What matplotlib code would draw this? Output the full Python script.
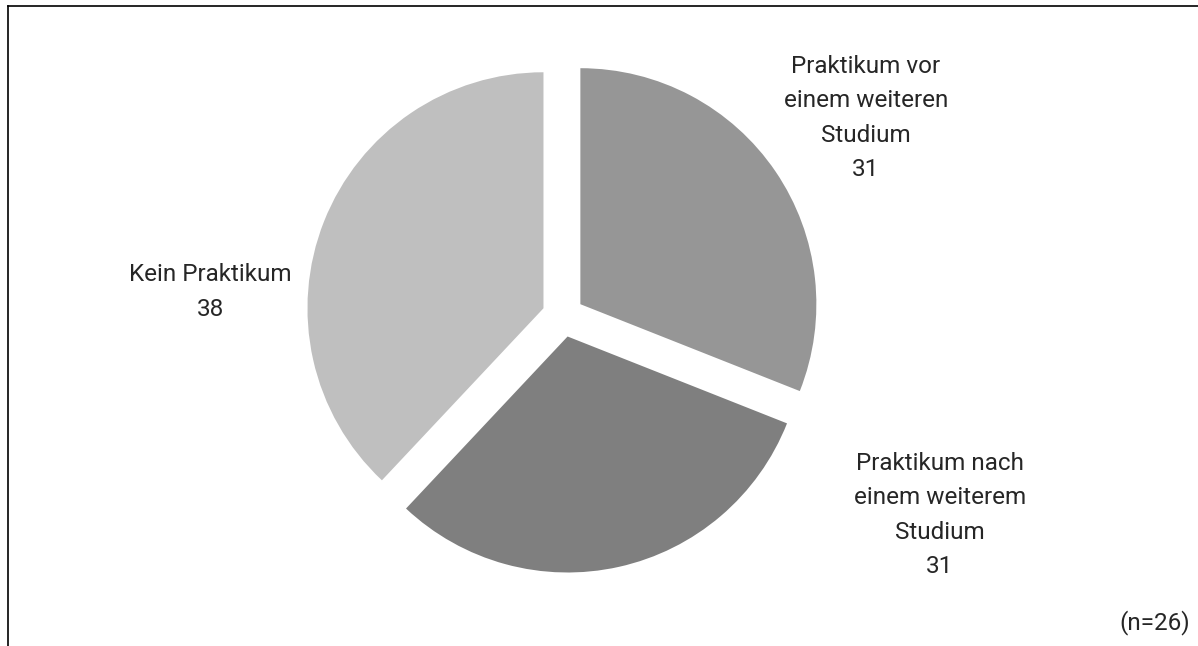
import matplotlib
matplotlib.use("Agg")
import matplotlib.pyplot as plt
import numpy as np
from matplotlib.lines import Line2D

labels = ["Praktikum vor\neinem weiteren\nStudium", "Praktikum nach\neinem weiterem\nStudium", "Kein Praktikum"]
values = [31, 31, 38]
colors = ["#969696", "#7f7f7f", "#bfbfbf"]
note = "(n=26)"

W, H = 1198, 646
cx, cy, R = 563, 316, 236

plt.rcParams['font.family'] = ['Roboto', 'DejaVu Sans']

fig = plt.figure(figsize=(W / 100, H / 100), dpi=100)
ax = fig.add_axes([0, 0, 1, 1])
ax.pie(values, colors=colors, startangle=90, counterclock=False,
       explode=[21 / R] * 3, radius=1, center=(0, 0),
       wedgeprops=dict(linewidth=0))
ax.set_xlim(-cx / R, (W - cx) / R)
ax.set_ylim(-(H - cy) / R, cy / R)
ax.set_aspect('auto')
ax.axis('off')

# label positions (pixel offsets from centre -> data units)
label_pos = [(866, 118), (940, 515), (210, 292)]
for lab, v, (px, py) in zip(labels, values, label_pos):
    ax.text((px - cx) / R, (cy - py) / R, f"{lab}\n{v}", ha='center', va='center',
            fontsize=17.5, fontweight='normal', color='#262626', linespacing=1.62)

fig.text(1190 / W, 1 - 623 / H, note, ha='right', va='center', fontsize=17.5,
         fontweight='normal', color='#262626')

# frame lines (top and left)
fig.add_artist(Line2D([8 / W, 1], [1 - 6 / H, 1 - 6 / H], transform=fig.transFigure,
                      color='black', linewidth=1.2))
fig.add_artist(Line2D([8 / W, 8 / W], [0, 1 - 6 / H], transform=fig.transFigure,
                      color='black', linewidth=1.2))

fig.savefig("out.png", dpi=100)
